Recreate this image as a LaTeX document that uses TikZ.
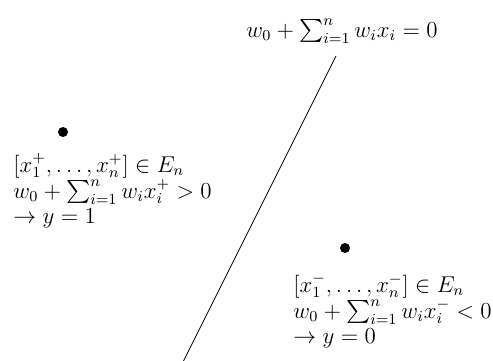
\documentclass[tikz,border=0pt]{standalone}
\usepackage{amsmath}
\usepackage{latexsym,amssymb}
\usetikzlibrary{positioning}

\tikzset{
    pointdot/.style={circle, fill=black, inner sep=0pt, minimum size=5pt},
    classtext/.style={inner sep=0pt, anchor=base west, font=\large, scale=0.955}
}

\begin{document}
\begin{tikzpicture}[x=0.5pt,y=-0.5pt]
    \useasboundingbox (0,0) rectangle (493,360);
    % --- SEPARATING HYPERPLANE ---
    \coordinate (lineTop) at (336,56);
    \coordinate (lineBot) at (183,362);
    \draw[line width=0.4pt] (lineTop) -- (lineBot);
    \node[classtext, anchor=base] (planeLabel) at (342,37) {$w_0+\sum_{i=1}^{n} w_i x_i = 0$};

    % --- POSITIVE SIDE (LEFT) ---
    \node[pointdot] (plusDot) at (63,132) {};
    \node[classtext] (plusSet) at (13,172) {$[x_1^+,\ldots,x_n^+]\in E_n$};
    \node[classtext] (plusSum) at (13,198) {$w_0+\sum_{i=1}^{n} w_i x_i^+ > 0$};
    \node[classtext] (plusOut) at (13,223) {$\rightarrow y=1$};

    % --- NEGATIVE SIDE (RIGHT) ---
    \node[pointdot] (minusDot) at (345,248) {};
    \node[classtext] (minusSet) at (293,292) {$[x_1^-,\ldots,x_n^-]\in E_n$};
    \node[classtext] (minusSum) at (293,318) {$w_0+\sum_{i=1}^{n} w_i x_i^- < 0$};
    \node[classtext] (minusOut) at (293,343) {$\rightarrow y=0$};
\end{tikzpicture}
\end{document}
